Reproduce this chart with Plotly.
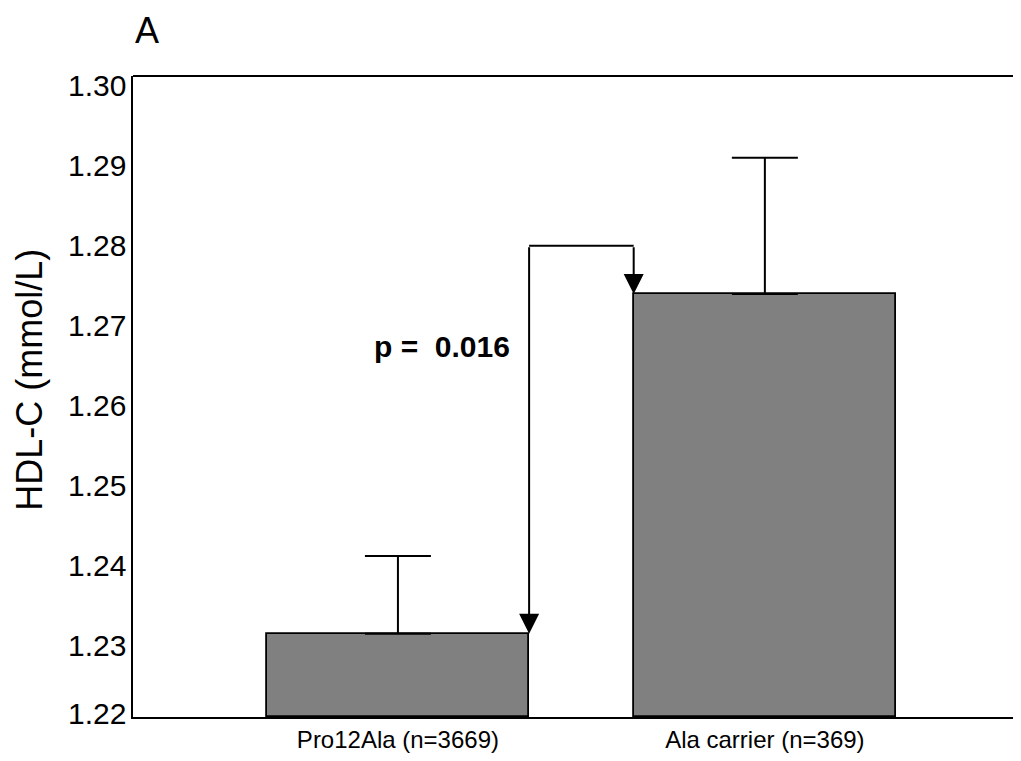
import plotly.graph_objects as go

categories = ["Pro12Ala (n=3669)", "Ala carrier (n=369)"]
means = [1.2304, 1.2728]
errors = [0.0097, 0.0170]
p_label = "p =&nbsp; 0.016"
bracket_top = 1.2788
y_ticks = [1.22, 1.23, 1.24, 1.25, 1.26, 1.27, 1.28, 1.29, 1.30]

FONT = "Arial, Liberation Sans, sans-serif"
bar_w = 0.715
xs = [0, 1]

fig = go.Figure()
fig.add_trace(go.Bar(
    x=xs, y=[m - 1.22 for m in means], base=1.22, width=bar_w,
    marker=dict(color="#808080", line=dict(color="black", width=1.8)),
    error_y=dict(type="data", symmetric=False, array=errors, arrayminus=[0, 0],
                 color="black", thickness=2, width=33),
    showlegend=False, hoverinfo="skip",
))

# bracket
xl = xs[0] + bar_w / 2
xr = xs[1] - bar_w / 2
fig.add_shape(type="line", x0=xl, x1=xr, y0=bracket_top, y1=bracket_top,
              xref="x", yref="y", line=dict(color="black", width=2))
for xa, ya in [(xl, means[0]), (xr, means[1])]:
    fig.add_annotation(x=xa, y=ya, ax=xa, ay=bracket_top, xref="x", yref="y",
                       axref="x", ayref="y", text="", showarrow=True,
                       arrowhead=2, arrowsize=2, arrowwidth=2, arrowcolor="black",
                       standoff=0)

fig.add_annotation(x=0.119, y=1.2662, xref="x", yref="y", text="<b>" + p_label + "</b>",
                   showarrow=False, xanchor="center", yanchor="middle",
                   font=dict(family=FONT, size=30, color="black"))

fig.add_annotation(x=0.016, y=1.106, xref="paper", yref="paper", text="A",
                   showarrow=False, xanchor="center", yanchor="top",
                   font=dict(family=FONT, size=36, color="black"))

fig.add_annotation(x=-0.116, y=0.526, xref="paper", yref="paper", text="HDL-C (mmol/L)",
                   textangle=-90, showarrow=False, xanchor="center", yanchor="middle",
                   font=dict(family=FONT, size=36, color="black"))

# y tick labels (drawn slightly below their ticks as in the original)
for v in y_ticks:
    fig.add_annotation(x=0, y=v, xref="paper", yref="y", text=f"{v:.2f}",
                       showarrow=False, xanchor="right", yanchor="middle",
                       xshift=-5, yshift=(-9 if v > y_ticks[0] else 4),
                       font=dict(family=FONT, size=30, color="black"))

fig.update_layout(
    width=1013, height=753,
    margin=dict(l=125, r=0, t=68, b=44),
    paper_bgcolor="white", plot_bgcolor="white",
    font=dict(family=FONT, color="black"),
    bargap=0,
)
fig.update_xaxes(range=[-0.722, 1.698], tickvals=xs, ticktext=categories,
                 showgrid=False, zeroline=False, showline=True, linecolor="black",
                 linewidth=2, mirror=False, ticks="", tickfont=dict(size=24, family=FONT))
fig.update_yaxes(range=[1.22, 1.30], tickvals=y_ticks, showticklabels=False,
                 showgrid=False, zeroline=False, showline=True, linecolor="black",
                 linewidth=2, ticks="")
# top border line (no right border)
fig.add_shape(type="line", x0=0, x1=1, y0=1, y1=1, xref="paper", yref="paper",
              line=dict(color="black", width=2))

fig.write_html("out.html")
